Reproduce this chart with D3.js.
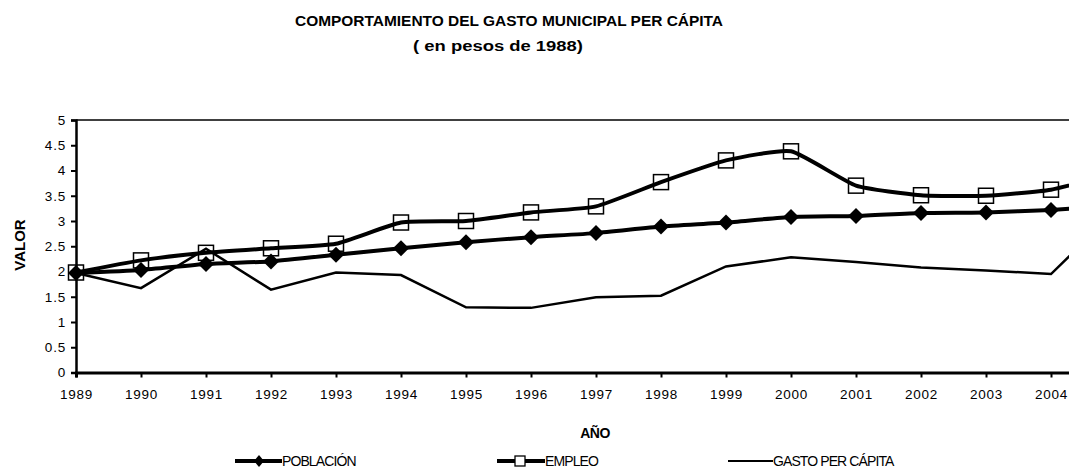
<!DOCTYPE html>
<html><head><meta charset="utf-8">
<script src="https://cdn.jsdelivr.net/npm/d3@7"></script>
<style>body{margin:0;background:#fff}svg{display:block}text{font-family:"Liberation Sans",Arial,sans-serif}</style>
</head><body><svg id="c" width="1069" height="474"></svg>
<script>
const years = [1989,1990,1991,1992,1993,1994,1995,1996,1997,1998,1999,2000,2001,2002,2003,2004,2005];
const poblacion = [1.97,2.03,2.15,2.2,2.33,2.46,2.58,2.68,2.76,2.89,2.97,3.08,3.1,3.16,3.17,3.22,3.3];
const empleo = [1.98,2.22,2.37,2.46,2.55,2.97,3.0,3.17,3.29,3.77,4.2,4.38,3.7,3.51,3.5,3.62,3.95];
const gasto = [1.97,1.67,2.45,1.64,1.98,1.93,1.29,1.28,1.49,1.52,2.1,2.28,2.19,2.08,2.02,1.95,3.2];
const yTicks = [0,0.5,1,1.5,2,2.5,3,3.5,4,4.5,5];
const xTickYears = years.slice(0,16);
const title = "COMPORTAMIENTO DEL GASTO MUNICIPAL PER CÁPITA";
const subtitle = "( en pesos de 1988)";
const legendLabels = ["POBLACIÓN","EMPLEO","GASTO PER CÁPITA"];

const svg = d3.select("#c");
const x = d3.scaleLinear().domain([1989,2005]).range([76,1116]);
const y = d3.scaleLinear().domain([0,5]).range([372.5,120]);

svg.append("text").attr("x",509).attr("y",26).attr("text-anchor","middle")
  .attr("font-size",15).attr("font-weight","bold").attr("textLength",428)
  .attr("lengthAdjust","spacingAndGlyphs").text(title);
svg.append("text").attr("x",498).attr("y",51).attr("text-anchor","middle")
  .attr("font-size",14.5).attr("font-weight","bold").attr("textLength",170)
  .attr("lengthAdjust","spacingAndGlyphs").text(subtitle);

// frame
svg.append("line").attr("x1",76).attr("x2",1069).attr("y1",120).attr("y2",120).attr("stroke","#000").attr("stroke-width",1.5);

const yAxis = d3.axisLeft(y).tickValues(yTicks).tickFormat(d=>String(d)).tickSize(5).tickPadding(5);
const gy = svg.append("g").attr("transform","translate(76,0)").call(yAxis);
gy.select(".domain").attr("stroke-width",2.5);
gy.selectAll(".tick line").attr("stroke-width",2);
gy.selectAll("text").attr("font-size",13.5).attr("letter-spacing",0.8).attr("font-family","Liberation Sans, Arial");

const xAxis = d3.axisBottom(x).tickValues(xTickYears).tickFormat(d3.format("d")).tickSize(5).tickPadding(12);
const gx = svg.append("g").attr("transform","translate(0,372.5)").call(xAxis);
gx.select(".domain").attr("stroke-width",3);
gx.selectAll(".tick line").attr("stroke-width",2);
gx.selectAll("text").attr("font-size",13.5).attr("letter-spacing",0.8).attr("font-family","Liberation Sans, Arial");

svg.append("text").attr("transform","translate(25,245) rotate(-90)").attr("text-anchor","middle")
  .attr("font-size",15).attr("font-weight","bold").text("VALOR");
svg.append("text").attr("x",595).attr("y",438).attr("text-anchor","middle")
  .attr("font-size",14).attr("font-weight","bold").attr("letter-spacing",-0.5).text("AÑO");

const plot = svg.append("g");
const lineSmooth = d3.line().x((d,i)=>x(years[i])).y(d=>y(d)).curve(d3.curveCardinal.tension(0.5));
const lineLin = d3.line().x((d,i)=>x(years[i])).y(d=>y(d));

plot.append("path").attr("d",lineLin(gasto)).attr("fill","none").attr("stroke","#000").attr("stroke-width",2.5);
plot.append("path").attr("d",lineSmooth(empleo)).attr("fill","none").attr("stroke","#000").attr("stroke-width",4);
plot.append("path").attr("d",lineSmooth(poblacion)).attr("fill","none").attr("stroke","#000").attr("stroke-width",4);

const sq = 15;
plot.selectAll("rect.emp").data(empleo.slice(0,16)).join("rect").attr("class","emp")
  .attr("x",(d,i)=>x(years[i])-sq/2).attr("y",d=>y(d)-sq/2).attr("width",sq).attr("height",sq)
  .attr("fill","none").attr("stroke","#000").attr("stroke-width",1.5);
const dm = 8;
plot.selectAll("path.pob").data(poblacion.slice(0,16)).join("path").attr("class","pob")
  .attr("d",(d,i)=>{const cx=x(years[i]),cy=y(d);return `M${cx},${cy-dm}L${cx+dm},${cy}L${cx},${cy+dm}L${cx-dm},${cy}Z`;})
  .attr("fill","#000");

// legend
const lg = svg.append("g");
const lx = [235,497,728];
const lw = [47,48,45];
lx.forEach((px,i)=>{
  lg.append("line").attr("x1",px).attr("x2",px+lw[i]).attr("y1",461).attr("y2",461)
    .attr("stroke","#000").attr("stroke-width",i<2?4:2);
  lg.append("text").attr("x",px+lw[i]).attr("y",466).attr("font-size",14).attr("letter-spacing",-0.9).text(legendLabels[i]);
});
lg.append("path").attr("d",`M259,455L264,461L259,467L254,461Z`).attr("fill","#000");
lg.append("rect").attr("x",515).attr("y",456).attr("width",10).attr("height",10).attr("fill","#fff").attr("stroke","#000").attr("stroke-width",1.3);
</script></body></html>
